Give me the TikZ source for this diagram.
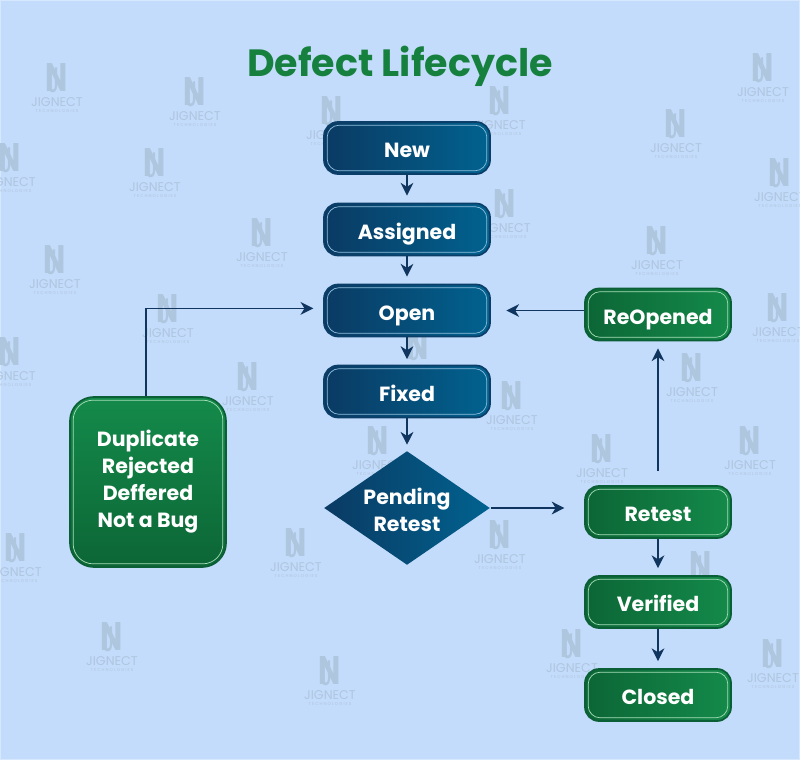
\documentclass[tikz,border=0pt]{standalone}
\usepackage{fontspec}
\setmainfont{Poppins}
\usepackage{xcolor}
\usetikzlibrary{positioning,calc,arrows.meta,shapes.geometric}

\definecolor{pagebg}{HTML}{C4DCFB}
\definecolor{pageedge}{HTML}{D6E8FD}
\definecolor{wmgray}{HTML}{AEC6DE}
\definecolor{titlegreen}{HTML}{16803F}
\definecolor{arrowblue}{HTML}{10365F}
\definecolor{blueleft}{HTML}{0A3A63}
\definecolor{blueright}{HTML}{01628F}
\definecolor{blueedge}{HTML}{0B3E68}
\definecolor{bluefine}{HTML}{8FBEDD}
\definecolor{greenleft}{HTML}{0C6636}
\definecolor{greenright}{HTML}{148A4A}
\definecolor{greenedge}{HTML}{0B5F36}
\definecolor{greenfine}{HTML}{A6DDB8}

\tikzset{
    inner frame/.style n args={2}{path picture={
        \draw[#1, line width=0.5pt, rounded corners=#2]
            ($(path picture bounding box.south west)+(0.8mm,0.8mm)$) rectangle
            ($(path picture bounding box.north east)+(-0.8mm,-0.8mm)$);}},
    boxtext/.style={text=white, align=center, font=\fontsize{14.6}{19.2}\selectfont\bfseries},
    blue node/.style={boxtext, draw=blueedge, line width=1.2pt, rounded corners=3.5mm,
        left color=blueleft, right color=blueright, inner frame={bluefine}{3mm},
        text height=17.6pt, text depth=4pt,
        minimum width=4.15cm, minimum height=1.3cm},
    green node/.style={boxtext, draw=greenedge, line width=1.2pt, rounded corners=3.5mm,
        left color=greenleft, right color=greenright, inner frame={greenfine}{3mm},
        text height=17.6pt, text depth=4pt,
        minimum width=3.65cm, minimum height=1.3cm},
    wm logo/.style={text=wmgray, font=\fontsize{21}{21}\selectfont, inner sep=0},
    wm name/.style={text=wmgray, font=\fontsize{9}{10}\selectfont, inner sep=0},
    wm small/.style={text=wmgray, font=\fontsize{3}{4}\selectfont\addfontfeature{LetterSpace=25}, inner sep=0}
}

\begin{document}
\begin{tikzpicture}[->,>={Stealth[length=3.2mm,width=3.2mm,inset=1mm]},x=0.025cm,y=-0.025cm,
        line width=0.9pt,draw=arrowblue]

\useasboundingbox (0,0) rectangle (800,760);
\fill[pagebg] (0,0) rectangle (800,760);
\draw[-,pageedge,line width=1pt] (0.5,0.5) rectangle (799.5,759.5);

\foreach \x/\y [count=\i] in {57/102,195/116,332/135,500/125,763/92,676/148,10/182,155/187,
        262/257,505/228,780/197,657/265,55/284,168/333,778/332,10/376,418/370,248/401,692/392,
        512/420,378/465,750/465,602/473,500/559,16/572,296/567,701/590,112/661,330/695,572/668,773/678}{
    \node[wm logo] (logo\i) at (\x,\y-24) {\bfseries\scalebox{1}[1.35]{N}};
    \node[wm logo] (hook\i) at (\x-3,\y-22) {\scalebox{0.8}[1.2]{J}};
    \node[wm name] (name\i) at (\x,\y) {JIGNECT};
    \node[wm small] (small\i) at (\x,\y+9) {TECHNOLOGIES};
}

\node[text=titlegreen, font=\fontsize{27}{30}\selectfont\bfseries] (title) at (400,66) {Defect Lifecycle};

\node[blue node] (new) at (407,148) {New};
\node[blue node] (assigned) at (407,229.5) {Assigned};
\node[blue node] (open) at (407,310.5) {Open};
\node[blue node] (fixed) at (407,391.5) {Fixed};
\node[diamond, left color=blueleft, right color=blueright, aspect=1.456, inner sep=0,
    minimum width=4.15cm, minimum height=2.85cm] (pending) at (407,508) {};
\node[boxtext] (pendingtext) at (407,510) {Pending\\Retest};

\node[green node] (reopened) at (658,314.5) {ReOpened};
\node[green node] (retest) at (658,512) {Retest};
\node[green node] (verified) at (658,602) {Verified};
\node[green node] (closed) at (658,695) {Closed};

\node[boxtext, draw=greenedge, line width=1.2pt, rounded corners=6mm,
    top color=greenright, bottom color=greenleft, inner frame={greenfine}{5mm},
    minimum width=3.9cm, minimum height=4.25cm] (rejected) at (148,482)
    {Duplicate\\Rejected\\Deffered\\Not a Bug};

\draw[shorten >=5pt] (new) -- (assigned);
\draw[shorten >=5pt] (assigned) -- (open);
\draw[shorten >=4pt] (open) -- (fixed);
\draw[shorten >=4pt] (fixed) -- (pending);

\draw[shorten >=14pt] (pending.east) -- (retest.west |- pending.east);
\draw[shorten >=5pt] (retest) -- (verified);
\draw[shorten >=5pt] (verified) -- (closed);
\draw[shorten <=10pt, shorten >=5pt] (retest.north) -- (reopened.south);
\draw[shorten >=11pt] (open.east -| reopened.west) -- (open.east);

\draw[shorten >=7pt] (rejected.north -| 146,0) |- ([yshift=1.5pt]open.west);

\end{tikzpicture}
\end{document}
